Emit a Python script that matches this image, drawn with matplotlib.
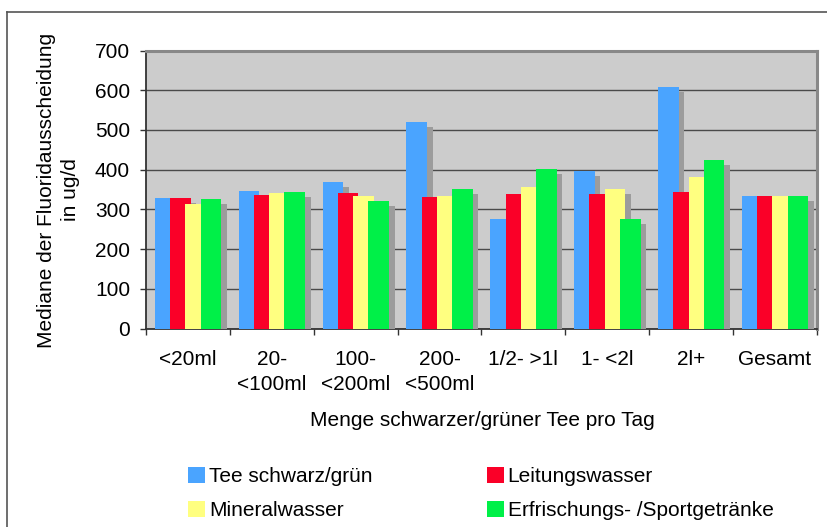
import numpy as np
import matplotlib.pyplot as plt
import matplotlib.patheffects as pe
from matplotlib.patches import Patch
from matplotlib.lines import Line2D

plt.rcParams['font.family'] = ['Liberation Sans', 'DejaVu Sans']

categories = ['<20ml', '20-\n<100ml', '100-\n<200ml', '200-\n<500ml',
              '1/2- >1l', '1- <2l', '2l+', 'Gesamt']
series = ['Tee schwarz/grün', 'Leitungswasser', 'Mineralwasser',
          'Erfrischungs- /Sportgetränke']
tee = [330, 346, 369, 521, 276, 398, 609, 334]
leitung = [328, 337, 341, 332, 340, 338, 343, 335]
mineral = [314, 341, 334, 334, 357, 352, 381, 333]
erfrisch = [326, 343, 322, 352, 401, 276, 424, 334]
colors = ['#4aa4ff', '#fa0028', '#ffff80', '#00f048']

fig = plt.figure(figsize=(8.28, 5.27), dpi=100)
ax = fig.add_axes([146/828, 1 - 328.7/527, 671/828, 278.2/527])
ax.set_facecolor('#cccccc')

x = np.arange(len(categories))
width = 0.246
step = 0.182
shadow = [pe.SimplePatchShadow(offset=(4, -3.6), shadow_rgbFace='#9c9c9c', alpha=1.0),
          pe.Normal()]
for k, vals in enumerate([tee, leitung, mineral, erfrisch]):
    ax.bar(x - 0.395 + k*step, vals, width=width, align='edge',
           color=colors[k], zorder=3, path_effects=shadow)

ax.set_xlim(-0.5, len(categories) - 0.5)
ax.set_ylim(0, 700)
ax.set_yticks(range(0, 701, 100))
ax.yaxis.grid(True, color='#4a4a4a', lw=1.0, zorder=1)
ax.set_axisbelow(True)

ax.set_xticks(np.arange(-0.5, len(categories)), labels=[])
ax.set_xticks(x, labels=categories, minor=True)
ax.tick_params(axis='x', which='major', length=4.5, width=1, color='#333333')
ax.tick_params(axis='x', which='minor', length=0, pad=15, labelsize=15)
for lab in ax.get_xticklabels(minor=True):
    lab.set_linespacing(1.45)
ax.tick_params(axis='y', length=4.5, width=1, color='#333333', labelsize=15, pad=7)

for s in ['left', 'bottom']:
    ax.spines[s].set_color('#333333')
    ax.spines[s].set_linewidth(1.3)
for s in ['top', 'right']:
    ax.spines[s].set_color('#888888')
    ax.spines[s].set_linewidth(2.2)

fig.text(58.5/828, 1 - 190/527, 'Mediane der Fluoridausscheidung\nin ug/d',
         rotation=90, ha='center', va='center', fontsize=15, linespacing=1.35)
fig.text(482/828, 1 - 420/527, 'Menge schwarzer/grüner Tee pro Tag',
         ha='center', va='center', fontsize=15)

# outer frame, top and left edges
fig.add_artist(Line2D([7/828, 7/828], [0, 1 - 12/527], transform=fig.transFigure,
                      color='#555555', lw=1.2))
fig.add_artist(Line2D([7/828, 1], [1 - 12/527, 1 - 12/527], transform=fig.transFigure,
                      color='#555555', lw=1.2))

order = [0, 2, 1, 3]
handles = [Patch(facecolor=colors[i]) for i in order]
labels = [series[i] for i in order]
fig.legend(handles, labels, ncol=2, loc='upper left',
           bbox_to_anchor=(188/828, 1 - 467/527), frameon=False, fontsize=15,
           handlelength=0.8, handleheight=0.8, handletextpad=0.2,
           columnspacing=5.5, labelspacing=0.7, borderpad=0, borderaxespad=0)

fig.savefig('out.png', dpi=100)
